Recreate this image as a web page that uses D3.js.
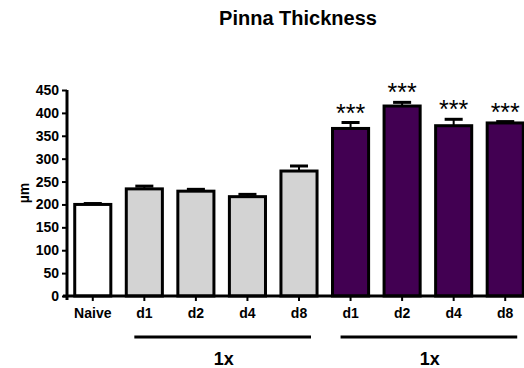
<!DOCTYPE html>
<html>
<head>
<meta charset="utf-8">
<script src="https://cdn.jsdelivr.net/npm/d3@7"></script>
<style>
  body { margin: 0; background: #fff; }
  svg text { font-family: "Liberation Sans", Arial, sans-serif; font-weight: bold; fill: #000; }
</style>
</head>
<body>
<div id="graph"></div>
<script>
const groups = ['Naive', 'd1', 'd2', 'd4', 'd8', 'd1', 'd2', 'd4', 'd8'];
const means = [200, 234, 229, 217, 273, 366, 415, 372, 378];
const errors = [2, 6, 4, 5, 11, 13, 8, 14, 3];
const fills = ['#ffffff', '#d3d3d3', '#d3d3d3', '#d3d3d3', '#d3d3d3', '#420052', '#420052', '#420052', '#420052'];
const stars = ['', '', '', '', '', '***', '***', '***', '***'];
const yTicks = [0, 50, 100, 150, 200, 250, 300, 350, 400, 450];
const treatments = [{label: '1x', from: 1, to: 4}, {label: '1x', from: 5, to: 8}];

const width = 524;
const height = 368;
const margin = {top: 90, right: 0, bottom: 72, left: 67};

const svg = d3.select('#graph').append('svg')
  .attr('width', width)
  .attr('height', height);

const x = d3.scaleBand()
  .domain(d3.range(groups.length))
  .range([margin.left, 531])
  .paddingInner(0.3)
  .paddingOuter(0.15);

const y = d3.scaleLinear()
  .domain([0, 450])
  .range([height - margin.bottom, margin.top]);

const base = y(0);

// title
svg.append('text')
  .attr('x', 298)
  .attr('y', 25)
  .attr('text-anchor', 'middle')
  .style('font-size', '20px')
  .text('Pinna Thickness');

// y label
svg.append('text')
  .attr('transform', 'translate(29,' + y(225) + ') rotate(-90)')
  .attr('text-anchor', 'middle')
  .style('font-size', '14px')
  .text('µm');

// bars
svg.selectAll('rect.bar')
  .data(means)
  .enter().append('rect')
  .attr('class', 'bar')
  .attr('x', (d, i) => x(i))
  .attr('y', d => y(d))
  .attr('width', x.bandwidth())
  .attr('height', d => base - y(d))
  .attr('fill', (d, i) => fills[i])
  .attr('stroke', '#000')
  .attr('stroke-width', 3);

// error bars
const err = svg.selectAll('g.err')
  .data(means)
  .enter().append('g')
  .attr('class', 'err');

err.append('line')
  .attr('x1', (d, i) => x(i) + x.bandwidth() / 2)
  .attr('x2', (d, i) => x(i) + x.bandwidth() / 2)
  .attr('y1', d => y(d))
  .attr('y2', (d, i) => y(d + errors[i]))
  .attr('stroke', '#000')
  .attr('stroke-width', 2);

err.append('line')
  .attr('x1', (d, i) => x(i) + x.bandwidth() * 0.25)
  .attr('x2', (d, i) => x(i) + x.bandwidth() * 0.75)
  .attr('y1', (d, i) => y(d + errors[i]))
  .attr('y2', (d, i) => y(d + errors[i]))
  .attr('stroke', '#000')
  .attr('stroke-width', 3);

// significance
svg.selectAll('text.star')
  .data(means)
  .enter().append('text')
  .attr('class', 'star')
  .attr('x', (d, i) => x(i) + x.bandwidth() / 2)
  .attr('y', (d, i) => y(d + errors[i]) - 1)
  .attr('text-anchor', 'middle')
  .style('font-size', '25px')
  .style('font-weight', 'normal')
  .text((d, i) => stars[i]);

// y axis
const yaxis = d3.axisLeft(y).tickValues(yTicks).tickSize(5).tickSizeOuter(0);
const gy = svg.append('g')
  .attr('transform', 'translate(' + margin.left + ',0)')
  .call(yaxis);
gy.select('.domain').attr('stroke-width', 3).attr('d', 'M0,' + (base + 4) + 'V' + y(450));
gy.selectAll('.tick line').attr('stroke-width', 2);
gy.selectAll('.tick text').style('font-size', '14px').attr('x', -8);

// x axis
const xaxis = d3.axisBottom(x).tickFormat(i => groups[i]).tickSize(5).tickSizeOuter(0);
const gx = svg.append('g')
  .attr('transform', 'translate(0,' + base + ')')
  .call(xaxis);
gx.select('.domain').attr('stroke-width', 3).attr('d', 'M' + (margin.left - 4) + ',0H' + width);
gx.selectAll('.tick line').attr('stroke-width', 2);
gx.selectAll('.tick text').style('font-size', '14px').attr('y', 9).attr('dy', '0.95em');

// treatment brackets
treatments.forEach(t => {
  const x0 = x(t.from) + x.bandwidth() / 2 - 10;
  const x1 = x(t.to) + x.bandwidth() / 2 + 12;
  svg.append('line')
    .attr('x1', x0).attr('x2', x1)
    .attr('y1', 337).attr('y2', 337)
    .attr('stroke', '#000')
    .attr('stroke-width', 3);
  svg.append('text')
    .attr('x', (x0 + x1) / 2 + 1)
    .attr('y', 365)
    .attr('text-anchor', 'middle')
    .style('font-size', '18px')
    .text(t.label);
});
</script>
</body>
</html>
